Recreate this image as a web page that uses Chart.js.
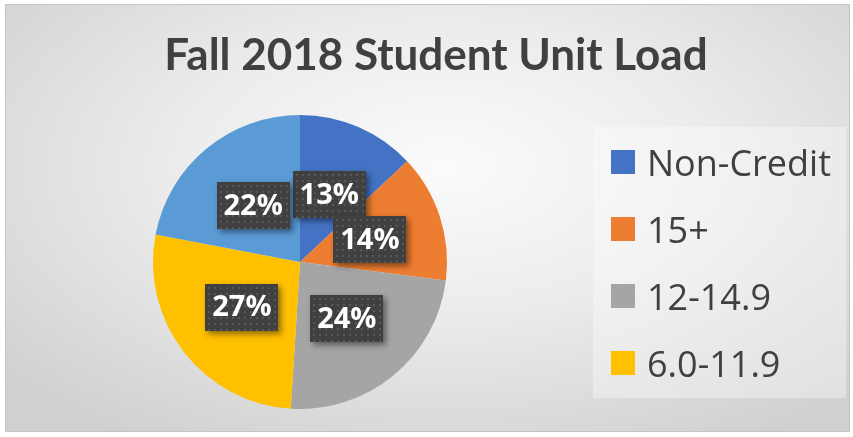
<!DOCTYPE html>
<html>
<head>
<meta charset="utf-8">
<script src="https://cdn.jsdelivr.net/npm/chart.js@4.4.1/dist/chart.umd.min.js"></script>
<style>
  html, body { margin: 0; padding: 0; background: #fff; }
  #frame {
    position: absolute; left: 5px; top: 4px; width: 845px; height: 428px;
    background: radial-gradient(ellipse 70% 75% at 52% 38%, #fbfbfb 0%, #ececec 45%, #d0d0d0 100%);
    border: 1px solid #c4c4c4; box-sizing: border-box;
  }
  #wrap { position: absolute; left: 0; top: 0; width: 853px; height: 437px; }
  #legend {
    position: absolute; left: 593px; top: 127px; width: 253px; height: 271px;
    background: rgba(255,255,255,0.35); box-sizing: border-box;
    font-family: "Open Sans", sans-serif; color: #404040; font-size: 36px;
  }
  .item { position: absolute; left: 18px; height: 40px; display: flex; align-items: center; }
  .sw { width: 24px; height: 24px; margin-right: 12px; flex: none; }
</style>
</head>
<body>
<div id="frame"></div>
<div id="wrap"><canvas id="pie" width="853" height="437"></canvas></div>
<div id="legend"></div>
<script>
const title = 'Fall 2018 Student Unit Load';
const labels = ['Non-Credit', '15+', '12-14.9', '6.0-11.9', '0.1-5.9'];
const values = [13, 14, 24, 27, 22];
const colors = ['#4472C4', '#ED7D31', '#A5A5A5', '#FFC000', '#5B9BD5'];
const legendShown = 4;

// legend (the fifth entry is cut off in the original)
const legendEl = document.getElementById('legend');
labels.slice(0, legendShown).forEach((lab, i) => {
  const d = document.createElement('div');
  d.className = 'item';
  d.style.top = (15 + i * 67) + 'px';
  d.innerHTML = `<span class="sw" style="background:${colors[i]}"></span><span>${lab}</span>`;
  legendEl.appendChild(d);
});

// title centred on the whole picture, not over the pie
const pageTitle = {
  id: 'pageTitle',
  afterDraw(chart) {
    const ctx = chart.ctx;
    ctx.save();
    ctx.font = 'bold 44px Lato, sans-serif';
    ctx.fillStyle = '#404040';
    ctx.textAlign = 'center';
    ctx.textBaseline = 'alphabetic';
    ctx.fillText(title, 436, 70);
    ctx.restore();
  }
};

const boxLabels = {
  id: 'boxLabels',
  afterDatasetsDraw(chart) {
    const ctx = chart.ctx;
    const meta = chart.getDatasetMeta(0);
    ctx.save();
    ctx.font = 'bold 29px "Open Sans", sans-serif';
    ctx.textAlign = 'center';
    ctx.textBaseline = 'middle';
    meta.data.forEach((arc, i) => {
      const p = arc.getCenterPoint();
      const w = 73, h = 47;
      const x = Math.round(p.x - w / 2), y = Math.round(p.y - h / 2);
      ctx.shadowColor = 'rgba(0,0,0,0.45)';
      ctx.shadowBlur = 6;
      ctx.shadowOffsetX = 3;
      ctx.shadowOffsetY = 3;
      ctx.fillStyle = '#404040';
      ctx.fillRect(x, y, w, h);
      ctx.shadowColor = 'transparent';
      ctx.fillStyle = 'rgba(110,110,110,0.5)';
      for (let yy = y + 3; yy < y + h; yy += 6)
        for (let xx = x + 3; xx < x + w; xx += 6) ctx.fillRect(xx, yy, 2, 2);
      ctx.fillStyle = '#ffffff';
      ctx.fillText(values[i] + '%', p.x, p.y + 1);
    });
    ctx.restore();
  }
};

new Chart(document.getElementById('pie'), {
  type: 'pie',
  data: {
    labels: labels,
    datasets: [{
      data: values,
      backgroundColor: colors,
      borderWidth: 0
    }]
  },
  options: {
    responsive: false,
    animation: false,
    layout: { padding: { left: 153, right: 406, top: 115, bottom: 28 } },
    plugins: {
      legend: { display: false },
      tooltip: { enabled: false },
      title: { display: false }
    }
  },
  plugins: [boxLabels, pageTitle]
});
</script>
</body>
</html>
